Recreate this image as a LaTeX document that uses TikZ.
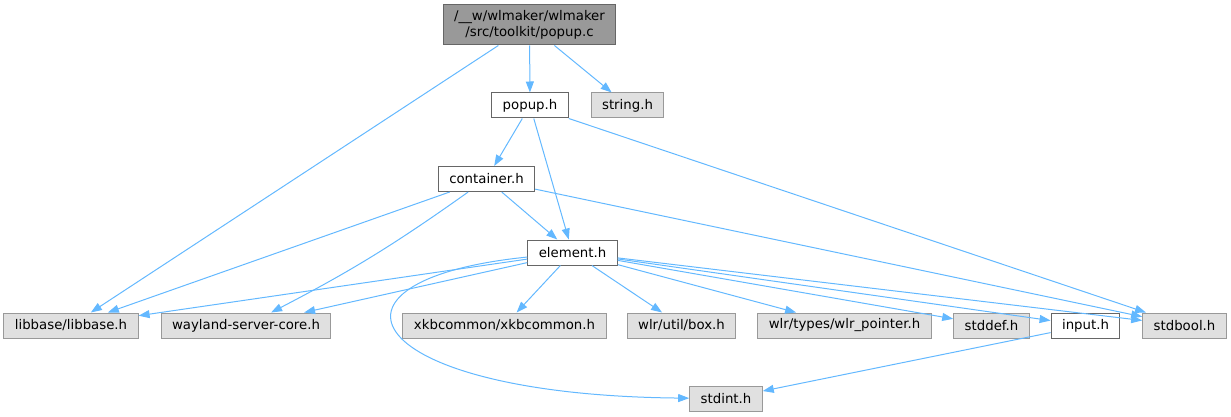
\documentclass[tikz,border=0pt]{standalone}
\usepackage{fontspec}
\setmainfont{DejaVu Sans}
\usetikzlibrary{arrows.meta}

\definecolor{edgeblue}{HTML}{63B8FF}
\definecolor{sysfill}{HTML}{E0E0E0}
\definecolor{topfill}{HTML}{999999}

\begin{document}
\begin{tikzpicture}[x=1pt, y=-1pt,
    box/.style = {draw, line width=1pt, inner xsep=11pt, inner ysep=0pt, minimum height=25pt,
                  font=\fontsize{13.3}{15.5}\selectfont, align=center},
    hdr/.style = {box, draw=black!60, fill=white},
    sys/.style = {box, draw=topfill, fill=sysfill},
    top/.style = {box, draw=black!60, fill=topfill, minimum height=40pt},
    dep/.style = {draw=edgeblue, line width=1pt, -{Triangle[length=11pt, width=8pt]}}]
    \useasboundingbox (0,0) rectangle (1231,417);
				\node[top] (popupc) at (529.5,25) {/\_\_w/wlmaker/wlmaker\\/src/toolkit/popup.c};
				\node[hdr] (popuph) at (530,105.5) {popup.h};
				\node[sys] (stringh) at (627.5,105.5) {string.h};
				\node[hdr] (container) at (486.5,179) {container.h};
				\node[hdr] (element) at (572.5,252.5) {element.h};
				\node[sys] (libbase) at (71,325.5) {libbase/libbase.h};
				\node[sys] (wayland) at (246,325.5) {wayland-server-core.h};
				\node[sys] (xkb) at (504.5,325.5) {xkbcommon/xkbcommon.h};
				\node[sys] (box) at (681.5,325.5) {wlr/util/box.h};
				\node[sys] (pointer) at (844.5,325.5) {wlr/types/wlr\_pointer.h};
				\node[sys] (stddef) at (991.5,325.5) {stddef.h};
				\node[hdr] (input) at (1085.5,325.5) {input.h};
				\node[sys] (stdbool) at (1184.5,325.5) {stdbool.h};
				\node[sys] (stdint) at (726,398.5) {stdint.h};
				\draw[dep] (popupc) -- (libbase);
				\draw[dep] (popupc) -- (popuph);
				\draw[dep] (popupc) -- (stringh);
				\draw[dep] (popuph) -- (container);
				\draw[dep] (popuph) -- (element);
				\draw[dep] (popuph) -- (stdbool);
				\draw[dep] (container) -- (libbase);
				\draw[dep] (container) to[bend left=4] (wayland);
				\draw[dep] (container) -- (element);
				\draw[dep] (container) -- (stdbool);
				\draw[dep] (element) -- (libbase);
				\draw[dep] (element) -- (wayland);
				\draw[dep] (element) .. controls (300,280) and (360,395) .. (stdint);
				\draw[dep] (element) -- (xkb);
				\draw[dep] (element) -- (box);
				\draw[dep] (element) -- (pointer);
				\draw[dep] (element) -- (stddef);
				\draw[dep] (element) -- (input);
				\draw[dep] (element) -- (stdbool);
				\draw[dep] (input) -- (stdint);
			\end{tikzpicture}
\end{document}
